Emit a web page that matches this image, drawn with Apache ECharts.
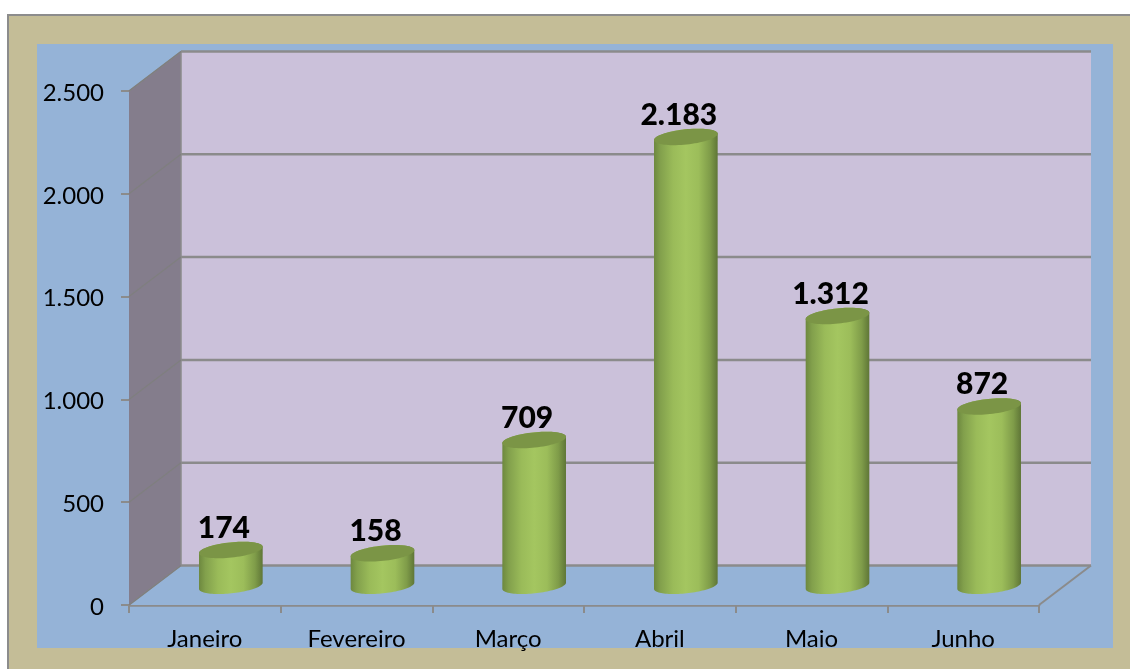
<!DOCTYPE html>
<html><head><meta charset="utf-8">
<style>html,body{margin:0;padding:0;background:#fff}#c{width:1130px;height:669px}</style>
<script src="https://cdn.jsdelivr.net/npm/echarts@6/dist/echarts.min.js"></script>
</head><body><div id="c"></div>
<script>
const categories = ['Janeiro','Fevereiro','Março','Abril','Maio','Junho'];
const values = [174,158,709,2183,1312,872];
const yTicks = [0,500,1000,1500,2000,2500];

const DEPTH = [52,-39.5];
const GREY = '#8b8b8b';
const fmt = v => String(v).replace(/\B(?=(\d{3})+$)/g,'.');
const chart = echarts.init(document.getElementById('c'),null,{renderer:'canvas'});

function ellipsePts(cx,cy,rx,ry,rot,a0,a1,n){
  const pts=[];
  for(let i=0;i<=n;i++){
    const a=a0+(a1-a0)*i/n, x=rx*Math.cos(a), y=ry*Math.sin(a);
    pts.push([cx+x*Math.cos(rot)-y*Math.sin(rot), cy+x*Math.sin(rot)+y*Math.cos(rot)]);
  }
  return pts;
}
const bodyGrad = {type:'linear',x:0,y:0,x2:1,y2:0,colorStops:[
  {offset:0,color:'#6d883f'},{offset:0.1,color:'#82a04c'},{offset:0.3,color:'#9abb59'},
  {offset:0.5,color:'#a4c660'},{offset:0.7,color:'#9cbd5a'},{offset:0.88,color:'#7f9c49'},{offset:1,color:'#5f7637'}]};

chart.setOption({
  animation:false,
  grid:{left:129,top:91,width:910,height:514,containLabel:false},
  graphic:[
    {type:'rect',z:0,shape:{x:8,y:15,width:1130,height:670},style:{fill:'#c4bd97',stroke:'#8c8c8c',lineWidth:2}},
    {type:'rect',z:0,shape:{x:37,y:44,width:1076,height:604},style:{fill:'#95b3d7'}}
  ],
  xAxis:{type:'category',data:categories,boundaryGap:true,
    axisLine:{show:true,lineStyle:{color:GREY,width:2.5}},
    axisTick:{show:true,alignWithLabel:false,length:8,lineStyle:{color:GREY,width:2}},
    axisLabel:{color:'#000',fontFamily:'Lato',fontSize:24,margin:22,interval:0},
    splitLine:{show:false}},
  yAxis:{type:'value',min:0,max:2500,interval:500,
    axisLine:{show:true,lineStyle:{color:GREY,width:1}},
    axisTick:{show:true,length:8,lineStyle:{color:GREY,width:2}},
    axisLabel:{color:'#000',fontFamily:'Lato',fontSize:24,margin:25,verticalAlign:'top',lineHeight:4,formatter:fmt},
    splitLine:{show:false}},
  series:[
    {type:'custom',coordinateSystem:'cartesian2d',z:1,silent:true,clip:false,data:[[0,0]],
      renderItem(p,api){
        const o=api.coord([0,0]), t=api.coord([0,2500]);
        const left=o[0]-api.size([1,0])[0]/2, right=left+api.size([1,0])[0]*categories.length;
        const y0=o[1], y1=t[1], dx=DEPTH[0], dy=DEPTH[1];
        const poly=(pts,fill)=>({type:'polygon',shape:{points:pts},style:{fill}});
        const line=(a,b,w)=>({type:'line',shape:{x1:a[0],y1:a[1],x2:b[0],y2:b[1]},style:{stroke:GREY,lineWidth:w}});
        return {type:'group',children:[
          poly([[left+dx,y1+dy],[right+dx,y1+dy],[right+dx,y0+dy],[left+dx,y0+dy]],'#cbc1da'),
          poly([[left,y1],[left+dx,y1+dy],[left+dx,y0+dy],[left,y0]],'#847d8c'),
          poly([[left,y0],[left+dx,y0+dy],[right+dx,y0+dy],[right,y0]],'#95b3d7'),
          line([left+dx,y1+dy],[left+dx,y0+dy],1.5),
          line([left,y1],[left+dx,y1+dy],1.5),
          line([left,y0],[left+dx,y0+dy],1.5),
          line([right,y0],[right+dx,y0+dy],2)
        ]};
      }},
    {type:'custom',coordinateSystem:'cartesian2d',z:2,silent:true,clip:false,data:yTicks.map(v=>[0,v]),
      encode:{x:0,y:1},
      renderItem(p,api){
        const v=api.value(1), c=api.coord([0,v]);
        const w=api.size([1,0])[0], left=c[0]-w/2, right=left+w*categories.length;
        return {type:'group',children:[
          {type:'line',shape:{x1:left,y1:c[1],x2:left+DEPTH[0],y2:c[1]+DEPTH[1]},style:{stroke:'#7f7f7f',lineWidth:1.2}},
          {type:'line',shape:{x1:left+DEPTH[0],y1:c[1]+DEPTH[1],x2:right+DEPTH[0],y2:c[1]+DEPTH[1]},style:{stroke:GREY,lineWidth:2.5}}
        ]};
      }},
    {type:'custom',coordinateSystem:'cartesian2d',z:3,silent:true,clip:false,
      data:values.map((v,i)=>[i,v]),encode:{x:0,y:1},
      renderItem(p,api){
        const i=api.value(0), v=api.value(1);
        const top=api.coord([i,v]), base=api.coord([i,0]);
        const cx=top[0]+DEPTH[0]/2, cyT=top[1]+DEPTH[1]/2+0.5, cyB=base[1]+DEPTH[1]/2+0.5;
        const rx=32, ry=7.6, rot=-6*Math.PI/180;
        const topE=ellipsePts(cx,cyT,rx,ry,rot,0,Math.PI*2,72);
        const lowerBase=ellipsePts(cx,cyB,rx,ry,rot,0,Math.PI,48);
        const upperTop=ellipsePts(cx,cyT,rx,ry,rot,Math.PI,Math.PI*2,48);
        return {type:'group',children:[
          {type:'polygon',shape:{points:lowerBase.concat(upperTop)},style:{fill:bodyGrad}},
          {type:'polygon',shape:{points:topE},style:{fill:'#7b9546'}},
          {type:'text',style:{text:fmt(v),x:cx-7,y:cyT-22,fill:'#000',align:'center',verticalAlign:'middle',
            font:'900 30px Lato'}}
        ]};
      }}
  ]
});
</script></body></html>
